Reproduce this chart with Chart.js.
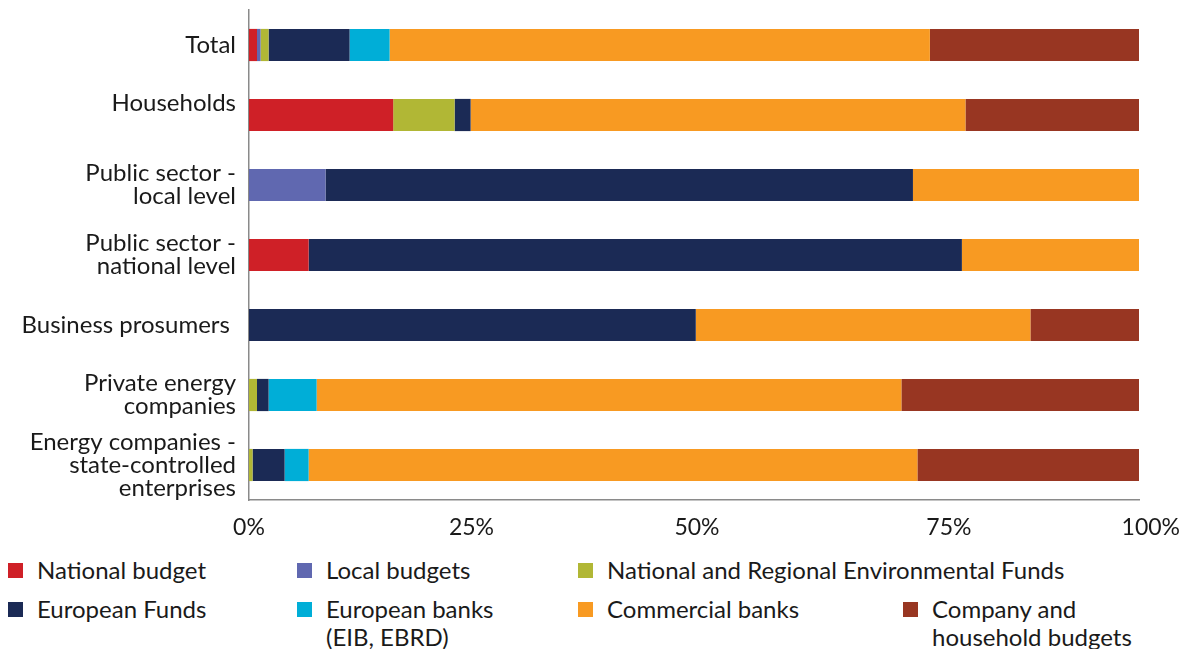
<!DOCTYPE html>
<html>
<head>
<meta charset="utf-8">
<script src="https://cdn.jsdelivr.net/npm/chart.js@4"></script>
<style>
  html, body { margin: 0; padding: 0; background: #fff; }
  body { width: 1190px; height: 649px; position: relative; overflow: hidden; font-family: Lato, sans-serif; color: #1a1a1a; }
  #wrap { position: absolute; left: 0; top: 0; width: 1190px; height: 550px; }
  .lg { position: absolute; font-size: 24px; line-height: 28px; }
  .lg i { position: absolute; left: 0; top: 7px; width: 15px; height: 15px; }
  .lg span { display: block; margin-left: 29px; white-space: nowrap; }
</style>
</head>
<body>
<div id="wrap"><canvas id="chart"></canvas></div>
<div id="legend"></div>
<script>
const categories = [
  'Total',
  ['Households', ''],
  ['Public sector -', 'local level'],
  ['Public sector -', 'national level'],
  'Business prosumers ',
  ['Private energy', 'companies'],
  ['Energy companies -', 'state-controlled', 'enterprises']
];

const seriesNames = [
  'National budget',
  'Local budgets',
  'National and Regional Environmental Funds',
  'European Funds',
  'European banks (EIB, EBRD)',
  'Commercial banks',
  'Company and household budgets'
];

// shares in %, one value per category
const nationalBudget  = [0.9, 16.2, 0,    6.7,  0,    0,    0];
const localBudgets    = [0.4, 0,    8.6,  0,    0,    0,    0];
const envFunds        = [0.9, 6.9,  0,    0,    0,    0.9,  0.4];
const europeanFunds   = [9.1, 1.8,  66.0, 73.4, 50.2, 1.3,  3.6];
const europeanBanks   = [4.5, 0,    0,    0,    0,    5.4,  2.7];
const commercialBanks = [60.7, 55.6, 25.4, 19.9, 37.6, 65.7, 68.4];
const ownBudgets      = [23.5, 19.5, 0,    0,    12.2, 26.7, 24.9];

const xTicks = [0, 25, 50, 75, 100];
// leading spaces nudge the later tick labels a little to the right
const xTickLabels = ['0%', '25%', ' 50%', '           75%', '    100%'];

const colors = ['#cf2027', '#6068b0', '#b1b735', '#1b2a55', '#00aed7', '#f89a22', '#983622'];
const values = [nationalBudget, localBudgets, envFunds, europeanFunds, europeanBanks, commercialBanks, ownBudgets];

// legend cells: [left, top, label lines]
const legendCells = [
  [8, 556, ['National budget']],
  [297, 556, ['Local budgets']],
  [578, 556, ['National and Regional Environmental Funds']],
  [8, 595, ['European Funds']],
  [297, 595, ['European banks', '(EIB, EBRD)']],
  [578, 595, ['Commercial banks']],
  [903, 595, ['Company and', 'household budgets']]
];

new Chart(document.getElementById('chart'), {
  type: 'bar',
  data: {
    labels: categories,
    datasets: seriesNames.map((name, i) => ({
      label: name,
      data: values[i],
      backgroundColor: colors[i],
      borderWidth: 0,
      categoryPercentage: 1,
      barPercentage: 0.46
    }))
  },
  options: {
    indexAxis: 'y',
    responsive: true,
    maintainAspectRatio: false,
    animation: false,
    layout: { padding: { top: 10, right: 51, left: 0, bottom: 0 } },
    plugins: { legend: { display: false }, tooltip: { enabled: false } },
    scales: {
      y: {
        stacked: true,
        grid: { display: false },
        border: { display: true, color: '#8a8a8a', width: 1.5 },
        ticks: {
          color: '#1a1a1a',
          font: { family: 'Lato', size: 24, lineHeight: 0.96 },
          padding: 5,
          autoSkip: false
        },
        afterFit(scale) {
          scale.width = 249;
          scale.paddingTop = 0;
          scale.paddingBottom = 0;
        }
      },
      x: {
        stacked: true,
        min: 0,
        max: 100,
        afterBuildTicks(scale) { scale.ticks = xTicks.map(v => ({ value: v })); },
        grid: { display: false },
        border: { display: true, color: '#8a8a8a', width: 1.5 },
        ticks: {
          color: '#1a1a1a',
          font: { family: 'Lato', size: 23 },
          padding: 6,
          callback: (v, i) => xTickLabels[i]
        },
        afterFit(scale) { scale.height = 50; }
      }
    }
  }
});

const legend = document.getElementById('legend');
legendCells.forEach(([left, top, lines], i) => {
  const el = document.createElement('div');
  el.className = 'lg';
  el.style.left = left + 'px';
  el.style.top = top + 'px';
  el.innerHTML = `<i style="background:${colors[i]}"></i><span>${lines.join('<br>')}</span>`;
  legend.appendChild(el);
});
</script>
</body>
</html>
